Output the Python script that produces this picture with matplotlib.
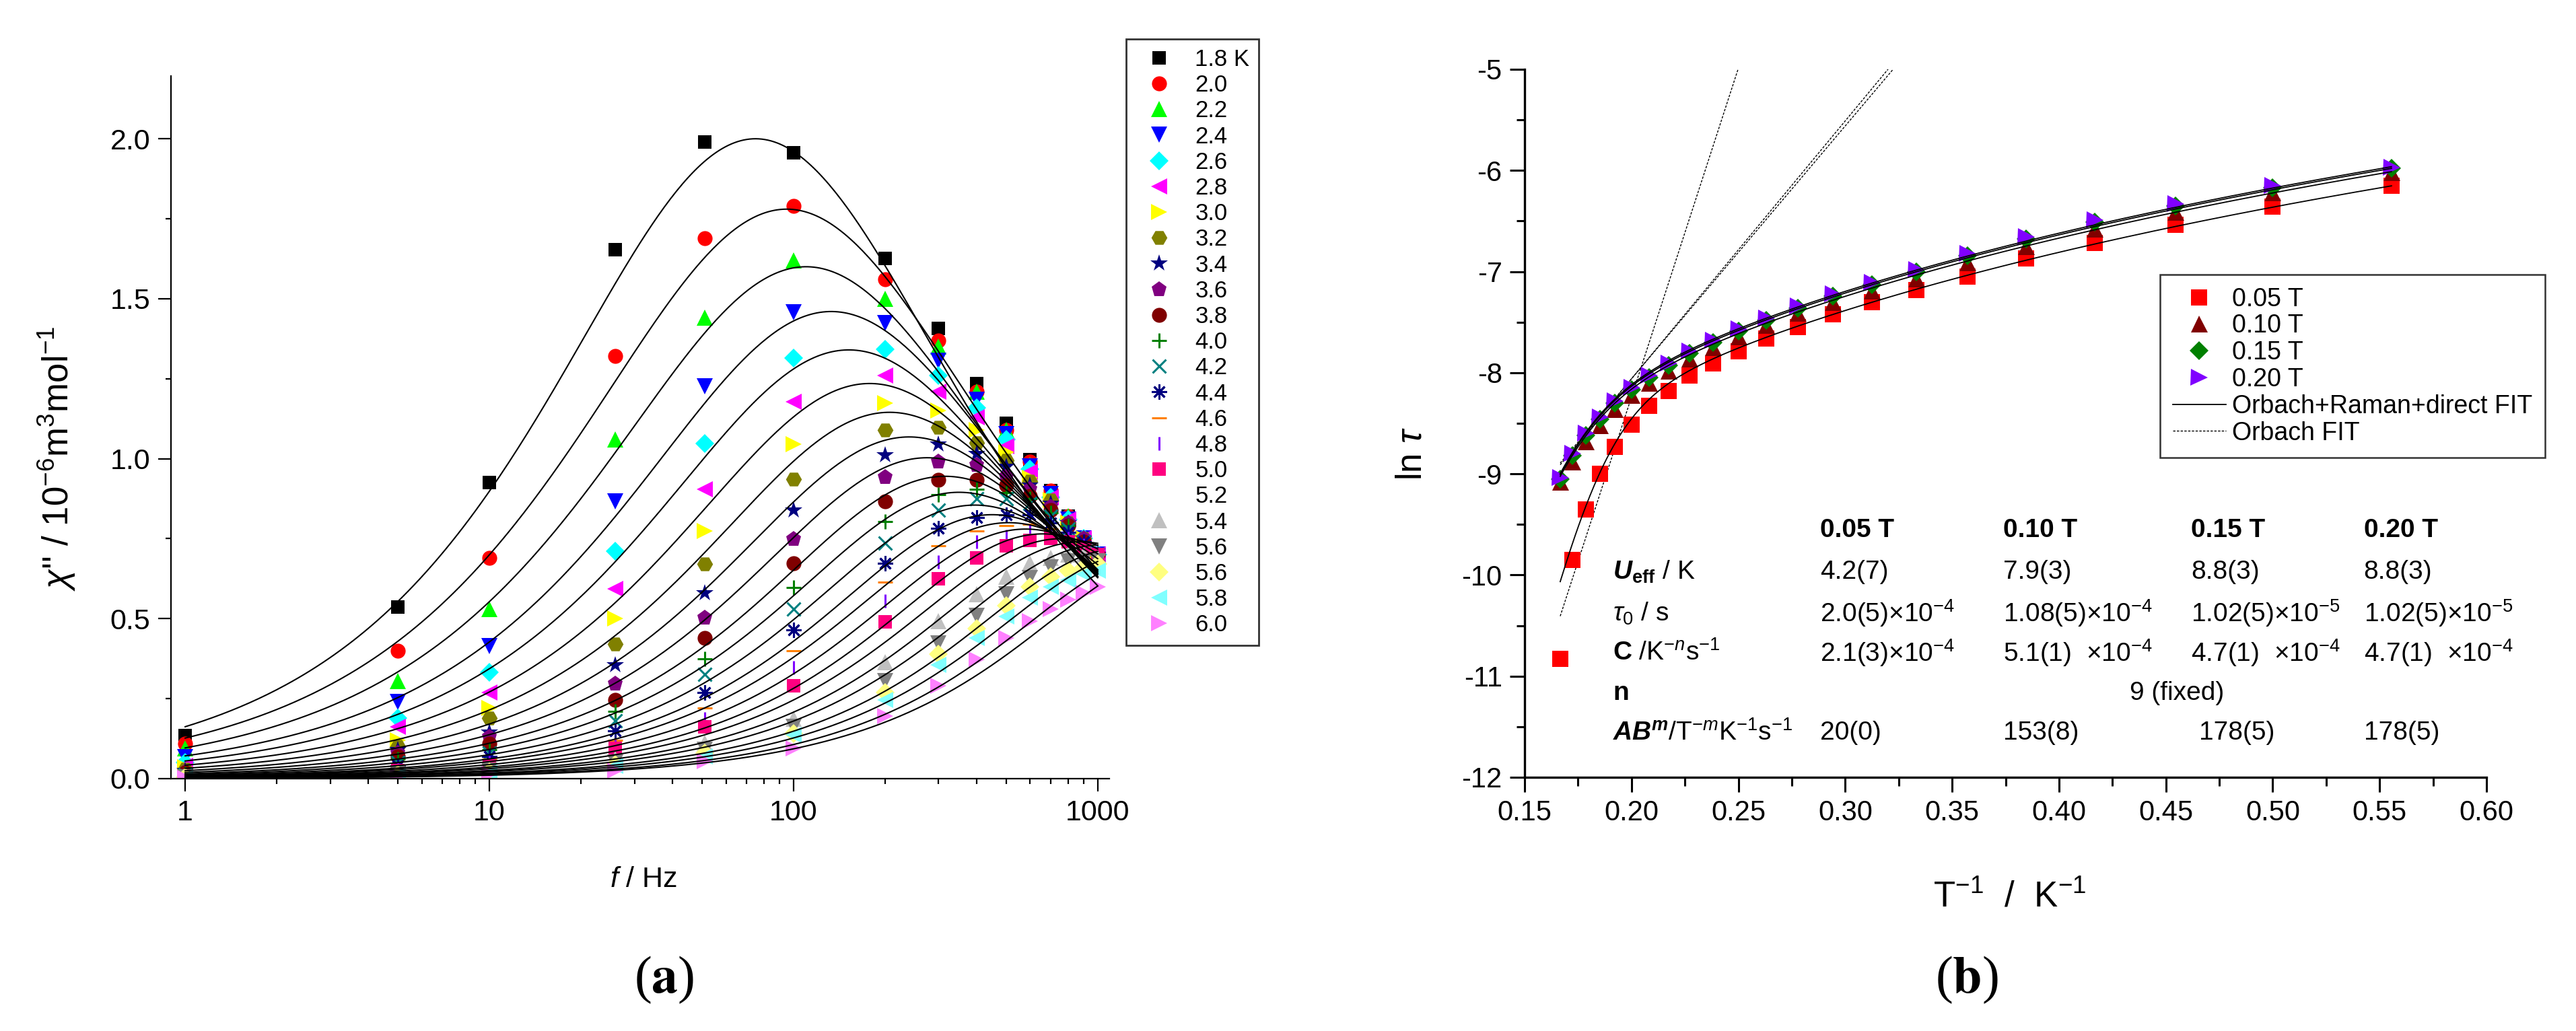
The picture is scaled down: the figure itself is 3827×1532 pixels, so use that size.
"""
Two-panel AC susceptibility figure:
(a) out-of-phase chi'' vs frequency at several temperatures (generalized Debye fits)
(b) ln(tau) vs 1/T at four dc fields, with relaxation fits and a parameter table.
"""
import numpy as np
import matplotlib.pyplot as plt
from matplotlib.ticker import MultipleLocator, FixedLocator, FuncFormatter, NullFormatter

# ───────────────────────── Data (a) ─────────────────────────
freq = [1, 5, 10, 26, 51, 100, 200, 300, 400, 500, 600, 700, 800, 900, 1000]   # Hz
temp_labels = ["1.8 K", "2.0", "2.2", "2.4", "2.6", "2.8", "3.0", "3.2", "3.4", "3.6", "3.8",
               "4.0", "4.2", "4.4", "4.6", "4.8", "5.0", "5.2", "5.4", "5.6", "5.6", "5.8", "6.0"]

chi_1p8 = [0.134, 0.536, 0.925, 1.654, 1.99, 1.956, 1.626, 1.408, 1.235, 1.11, 0.996, 0.90, 0.82, 0.75, 0.69]
chi_2p0 = [0.11, 0.40, 0.69, 1.32, 1.69, 1.79, 1.56, 1.37, 1.21, 1.09, 0.99, 0.90, 0.82, 0.75, 0.70]
chi_2p2 = [0.095, 0.305, 0.53, 1.06, 1.44, 1.62, 1.50, 1.35, 1.21, 1.09, 0.98, 0.89, 0.82, 0.75, 0.70]
chi_2p4 = [0.067, 0.24, 0.414, 0.866, 1.227, 1.457, 1.423, 1.307, 1.185, 1.076, 0.976, 0.89, 0.81, 0.75, 0.70]
chi_2p6 = [0.05, 0.19, 0.333, 0.712, 1.048, 1.314, 1.341, 1.26, 1.16, 1.06, 0.967, 0.88, 0.81, 0.75, 0.70]
chi_2p8 = [0.04, 0.163, 0.27, 0.593, 0.905, 1.177, 1.26, 1.21, 1.13, 1.04, 0.96, 0.88, 0.81, 0.75, 0.70]
chi_3p0 = [0.035, 0.12, 0.22, 0.50, 0.774, 1.046, 1.173, 1.15, 1.09, 1.02, 0.94, 0.87, 0.80, 0.75, 0.70]
chi_3p2 = [0.03, 0.10, 0.19, 0.42, 0.67, 0.937, 1.09, 1.098, 1.05, 0.995, 0.93, 0.87, 0.80, 0.75, 0.70]
chi_3p4 = [0.025, 0.09, 0.146, 0.355, 0.58, 0.84, 1.012, 1.046, 1.017, 0.975, 0.917, 0.86, 0.80, 0.75, 0.70]
chi_3p6 = [0.02, 0.079, 0.13, 0.297, 0.503, 0.749, 0.942, 0.99, 0.98, 0.945, 0.905, 0.85, 0.80, 0.75, 0.70]
chi_3p8 = [0.018, 0.07, 0.11, 0.246, 0.44, 0.674, 0.867, 0.934, 0.934, 0.917, 0.883, 0.84, 0.79, 0.74, 0.70]
chi_4p0 = [0.015, 0.06, 0.09, 0.21, 0.375, 0.598, 0.803, 0.888, 0.905, 0.895, 0.875, 0.83, 0.79, 0.74, 0.70]
chi_4p2 = [0.012, 0.05, 0.08, 0.18, 0.325, 0.53, 0.737, 0.84, 0.875, 0.875, 0.86, 0.82, 0.78, 0.74, 0.70]
chi_4p4 = [0.01, 0.04, 0.07, 0.15, 0.27, 0.464, 0.674, 0.783, 0.816, 0.825, 0.825, 0.80, 0.77, 0.74, 0.70]
chi_4p6 = [0.01, 0.035, 0.06, 0.12, 0.22, 0.40, 0.615, 0.727, 0.774, 0.79, 0.795, 0.78, 0.76, 0.73, 0.70]
chi_4p8 = [0.008, 0.03, 0.05, 0.10, 0.188, 0.347, 0.556, 0.677, 0.741, 0.758, 0.774, 0.77, 0.75, 0.73, 0.70]
chi_5p0 = [0.007, 0.025, 0.04, 0.095, 0.163, 0.29, 0.49, 0.624, 0.69, 0.727, 0.744, 0.75, 0.74, 0.72, 0.70]
chi_5p2 = [0.006, 0.02, 0.035, 0.08, 0.14, 0.24, 0.42, 0.55, 0.63, 0.68, 0.71, 0.72, 0.72, 0.71, 0.70]
chi_5p4 = [0.005, 0.018, 0.03, 0.06, 0.112, 0.188, 0.364, 0.493, 0.577, 0.632, 0.674, 0.69, 0.70, 0.70, 0.69]
chi_5p6a = [0.004, 0.015, 0.025, 0.05, 0.09, 0.163, 0.305, 0.422, 0.51, 0.577, 0.627, 0.66, 0.68, 0.68, 0.68]
chi_5p6b = [0.004, 0.012, 0.02, 0.045, 0.08, 0.14, 0.27, 0.39, 0.47, 0.54, 0.60, 0.63, 0.65, 0.66, 0.67]
chi_5p8 = [0.003, 0.01, 0.018, 0.04, 0.07, 0.137, 0.246, 0.355, 0.44, 0.506, 0.565, 0.60, 0.62, 0.64, 0.65]
chi_6p0 = [0.003, 0.008, 0.015, 0.025, 0.054, 0.095, 0.196, 0.29, 0.372, 0.44, 0.493, 0.53, 0.56, 0.58, 0.60]

chi_series = [chi_1p8, chi_2p0, chi_2p2, chi_2p4, chi_2p6, chi_2p8, chi_3p0, chi_3p2, chi_3p4,
              chi_3p6, chi_3p8, chi_4p0, chi_4p2, chi_4p4, chi_4p6, chi_4p8, chi_5p0, chi_5p2,
              chi_5p4, chi_5p6a, chi_5p6b, chi_5p8, chi_6p0]

# generalized Debye fit parameters (peak frequency, peak height, alpha)
fit_fpeak = [75, 95, 110, 133, 152, 178, 207, 240, 275, 315, 350, 395, 450, 510, 580, 660,
             760, 880, 1020, 1200, 1400, 1600, 1850]
fit_height = [2.00, 1.78, 1.60, 1.46, 1.34, 1.235, 1.145, 1.068, 1.003, 0.945, 0.895, 0.855,
              0.825, 0.80, 0.78, 0.765, 0.75, 0.74, 0.73, 0.72, 0.71, 0.70, 0.70]
fit_alpha = [0.20, 0.21, 0.20, 0.19, 0.18, 0.17, 0.16, 0.15, 0.14, 0.13, 0.12, 0.11, 0.10,
             0.10, 0.09, 0.08, 0.08, 0.07, 0.07, 0.06, 0.06, 0.05, 0.05]

# ───────────────────────── Data (b) ─────────────────────────
temps_b = [6.0, 5.8, 5.6, 5.4, 5.2, 5.0, 4.8, 4.6, 4.4, 4.2, 4.0, 3.8, 3.6, 3.4, 3.2, 3.0,
           2.8, 2.6, 2.4, 2.2, 2.0, 1.8]
lntau_005 = [-10.83, -9.85, -9.35, -9.00, -8.73, -8.51, -8.33, -8.18, -8.03, -7.91, -7.79,
             -7.66, -7.55, -7.42, -7.30, -7.18, -7.05, -6.87, -6.72, -6.54, -6.36, -6.15]
lntau_010 = [-9.08, -8.88, -8.68, -8.52, -8.36, -8.22, -8.10, -7.98, -7.86, -7.75, -7.64,
             -7.53, -7.41, -7.30, -7.19, -7.07, -6.91, -6.75, -6.58, -6.41, -6.22, -6.02]
lntau_015 = [-9.05, -8.82, -8.62, -8.46, -8.30, -8.17, -8.05, -7.93, -7.81, -7.70, -7.59,
             -7.48, -7.36, -7.24, -7.13, -7.00, -6.84, -6.68, -6.51, -6.35, -6.17, -5.98]
lntau_020 = [-9.04, -8.80, -8.60, -8.44, -8.28, -8.15, -8.03, -7.91, -7.79, -7.68, -7.57,
             -7.46, -7.34, -7.22, -7.11, -6.98, -6.82, -6.66, -6.49, -6.33, -6.15, -5.97]
field_labels = ["0.05 T", "0.10 T", "0.15 T", "0.20 T"]

# fit curves: 1/tau = C*T^n + rate*exp(-U/T)
fit_C = [145, 126, 122, 120]
fit_n = [2.0, 2.0, 2.0, 2.0]
fit_rate = [2.6e10, 4.85e8, 4.85e8, 4.85e8]
fit_U = [85.0, 70.6, 70.6, 70.6]
# Orbach-only lines: ln tau = ln tau0 + U/T
orbach_U = [65.0, 25.0, 25.5]
orbach_lntau0 = [-21.24, -13.06, -13.16]

# parameter table
ueff_vals = ["4.2(7)", "7.9(3)", "8.8(3)", "8.8(3)"]
tau0_vals = [r"2.0(5)×10$^{-4}$", r"1.08(5)×10$^{-4}$", r"1.02(5)×10$^{-5}$", r"1.02(5)×10$^{-5}$"]
c_vals = [r"2.1(3)×10$^{-4}$", r"5.1(1)  ×10$^{-4}$", r"4.7(1)  ×10$^{-4}$", r"4.7(1)  ×10$^{-4}$"]
n_text = "9 (fixed)"
ab_vals = ["20(0)", "153(8)", "178(5)", "178(5)"]

# ───────────────────────── Style ─────────────────────────
plt.rcParams.update({
    'font.family': ['Liberation Sans', 'DejaVu Sans'],
    'mathtext.fontset': 'custom',
    'mathtext.rm': 'Liberation Sans',
    'mathtext.it': 'Liberation Sans:italic',
    'mathtext.bf': 'Liberation Sans:bold',
})
if 'mathtext.bfit' in plt.rcParams:
    plt.rcParams['mathtext.bfit'] = 'Liberation Sans:italic:bold'
NARROW = ['Liberation Sans Narrow', 'Liberation Sans', 'DejaVu Sans']

W, H = 3827, 1532
fig = plt.figure(figsize=(W / 100, H / 100), dpi=100)


def px_axes(x0, y0, x1, y1):
    return fig.add_axes([x0 / W, 1 - y1 / H, (x1 - x0) / W, (y1 - y0) / H])


def debye(f, fp, h, a):
    x = np.asarray(f) / fp
    s, c = np.sin(a * np.pi / 2), np.cos(a * np.pi / 2)
    xa = x ** (1 - a)
    return 2 * h * (1 + s) * xa / (1 + 2 * xa * s + xa ** 2)


# ───────────────────────── (a) ─────────────────────────
axL = px_axes(254, 113, 1648, 1157)
styles = [
    ('s', '#000000', 15), ('o', '#ff0000', 16), ('^', '#00ff00', 17), ('v', '#0000ff', 17),
    ('D', '#00ffff', 14), ('<', '#ff00ff', 17), ('>', '#ffff00', 17), ('H', '#808000', 17),
    ('*', '#000080', 19), ('p', '#800080', 17), ('o', '#800000', 16), ('+', '#008000', 16),
    ('x', '#008080', 15), ((8, 2, 0), '#000080', 16), ('_', '#ff8000', 16), ('|', '#8000ff', 14),
    ('s', '#ff0080', 15), ('', '#ffffff', 1), ('^', '#c0c0c0', 17), ('v', '#808080', 17),
    ('D', '#ffff80', 14), ('<', '#80ffff', 17), ('>', '#ff80ff', 17),
]
fgrid = np.logspace(0, 3, 300)
for vals, lab, (m, col, ms), fp, hh, al in zip(chi_series, temp_labels, styles,
                                              fit_fpeak, fit_height, fit_alpha):
    line_m = m in ('+', 'x', '_', '|') or isinstance(m, tuple)
    axL.plot(freq, vals, linestyle='none', marker=m if m else None, ms=ms,
             color=col, mfc=col, mec=col, mew=2.2 if line_m else 0, label=lab, zorder=2)
    axL.plot(fgrid, debye(fgrid, fp, hh, al), color='black', lw=1.5, zorder=3)

axL.set_xscale('log')
axL.set_xlim(0.898, 1092)
axL.set_ylim(0, 2.196)
axL.xaxis.set_major_locator(FixedLocator([1, 10, 100, 1000]))
axL.xaxis.set_major_formatter(FuncFormatter(lambda v, p: f"{v:g}"))
axL.xaxis.set_minor_locator(FixedLocator([k * 10 ** d for d in range(3) for k in range(2, 10)]))
axL.xaxis.set_minor_formatter(NullFormatter())
axL.yaxis.set_major_locator(MultipleLocator(0.5))
axL.yaxis.set_minor_locator(MultipleLocator(0.25))
axL.yaxis.set_major_formatter(FuncFormatter(lambda v, p: f"{v:.1f}"))
for s in ('top', 'right'):
    axL.spines[s].set_visible(False)
for s in ('left', 'bottom'):
    axL.spines[s].set_linewidth(1.6)
axL.tick_params(which='major', direction='out', length=14, width=1.6, labelsize=31, pad=8)
axL.tick_params(which='minor', direction='out', length=6, width=1.6)
axL.set_ylabel(r"$\chi$'' / 10$^{-6}$m$^{3}$mol$^{-1}$", fontsize=38)
axL.yaxis.set_label_coords(-0.100, 0.456)
axL.set_xlabel(r"$f$ / Hz", fontsize=31)
axL.xaxis.set_label_coords(0.504, -0.125)

legL = axL.legend(loc='upper left', bbox_to_anchor=(1673 / W, 1 - 58 / H),
                  bbox_transform=fig.transFigure, borderaxespad=0, fontsize=25,
                  frameon=True, fancybox=False, edgecolor='black', numpoints=1,
                  handlelength=2.0, handletextpad=0.55, labelspacing=0.15, borderpad=0.4)
legL.get_frame().set_linewidth(2.0)

# ───────────────────────── (b) ─────────────────────────
axR = px_axes(2265, 103, 3694, 1155)
invT = 1.0 / np.array(temps_b)
Tgrid = np.linspace(1.8, 6.0, 300)

for U, lt0 in zip(orbach_U, orbach_lntau0):
    xx = np.linspace(1 / 6.0, 0.34, 50)
    axR.plot(xx, lt0 + U * xx, color='black', lw=1.0, linestyle=(0, (2.5, 1.5)), zorder=1)

point_styles = [('s', '#ff0000', 17), ('^', '#800000', 18), ('D', '#008000', 14), ('>', '#8000ff', 18)]
for vals, lab, (m, col, ms) in zip([lntau_005, lntau_010, lntau_015, lntau_020], field_labels, point_styles):
    axR.plot(invT, vals, linestyle='none', marker=m, ms=ms, color=col, mec=col, mew=0,
             label=lab, zorder=2)

for C, n, rate, U in zip(fit_C, fit_n, fit_rate, fit_U):
    inv_tau = C * Tgrid ** n + rate * np.exp(-U / Tgrid)
    axR.plot(1 / Tgrid, -np.log(inv_tau), color='black', lw=1.3, zorder=3)

axR.plot([], [], color='black', lw=1.3, label="Orbach+Raman+direct FIT")
axR.plot([], [], color='black', lw=1.0, linestyle=(0, (2.5, 1.5)), label="Orbach FIT")

axR.set_xlim(0.15, 0.60)
axR.set_ylim(-12, -5)
axR.xaxis.set_major_locator(MultipleLocator(0.05))
axR.xaxis.set_minor_locator(MultipleLocator(0.025))
axR.xaxis.set_major_formatter(FuncFormatter(lambda v, p: f"{v:.2f}"))
axR.yaxis.set_major_locator(MultipleLocator(1))
axR.yaxis.set_minor_locator(MultipleLocator(0.5))
axR.yaxis.set_major_formatter(FuncFormatter(lambda v, p: f"{int(round(v))}"))
for s in ('top', 'right'):
    axR.spines[s].set_visible(False)
for s in ('left', 'bottom'):
    axR.spines[s].set_linewidth(2.4)
axR.tick_params(which='major', direction='out', length=16, width=2.2, labelsize=30, pad=8)
axR.tick_params(which='minor', direction='out', length=9, width=2.2)
for t in axR.get_xticklabels() + axR.get_yticklabels():
    t.set_family(NARROW)
axR.set_ylabel(r"ln $\tau$", fontsize=38, family=NARROW)
axR.yaxis.set_label_coords(-0.100, 0.457)
axR.set_xlabel(r"T$^{-1}$  /  K$^{-1}$", fontsize=38, family=NARROW)
axR.xaxis.set_label_coords(0.504, -0.146)

legR = axR.legend(loc='upper left', bbox_to_anchor=(3209 / W, 1 - 408 / H),
                  bbox_transform=fig.transFigure, borderaxespad=0,
                  prop={'family': NARROW, 'size': 27}, frameon=True, fancybox=False,
                  edgecolor='black', numpoints=1, handlelength=2.1, handletextpad=0.25,
                  labelspacing=0.1, borderpad=0.5)
legR.get_frame().set_linewidth(1.8)

# parameter table (data coordinates of panel b)
col_x = [0.2882, 0.3739, 0.4617, 0.5426]
ab_x = [0.2882, 0.3739, 0.4655, 0.5426]
lab_x = 0.1912
row_y = [-9.56, -9.97, -10.38, -10.77, -11.17, -11.56]
tfs = 28
tkw = dict(ha='left', va='center', family=NARROW, fontsize=tfs)
for x, s in zip(col_x, field_labels):
    axR.text(x, row_y[0], s, fontweight='bold', **tkw)
row_labels = [r"$\mathbfit{U}_{\mathbf{eff}}$ / K", r"$\tau_0$ / s",
              r"$\mathbf{C}$ /K$^{-n}$s$^{-1}$", r"$\mathbf{n}$",
              r"$\mathbfit{AB}^{\mathbfit{m}}$/T$^{-m}$K$^{-1}$s$^{-1}$"]
for y, s in zip(row_y[1:], row_labels):
    axR.text(lab_x, y, s, **tkw)
for vals, y in zip([ueff_vals, tau0_vals, c_vals], row_y[1:4]):
    for x, s in zip(col_x, vals):
        axR.text(x, y, s, **tkw)
axR.text(0.4551, row_y[4], n_text, ha='center', va='center', family=NARROW, fontsize=tfs)
for x, s in zip(ab_x, ab_vals):
    axR.text(x, row_y[5], s, **tkw)

# panel labels
for x, y, s in [(987, 1456, 'a'), (2922, 1456, 'b')]:
    fig.text(x / W, 1 - y / H, r"($\mathbf{%s}$)" % s, ha='center', va='center',
             fontsize=56, family=['Liberation Serif', 'DejaVu Serif'],
             math_fontfamily='stix')

fig.savefig("out.png", dpi=100)
